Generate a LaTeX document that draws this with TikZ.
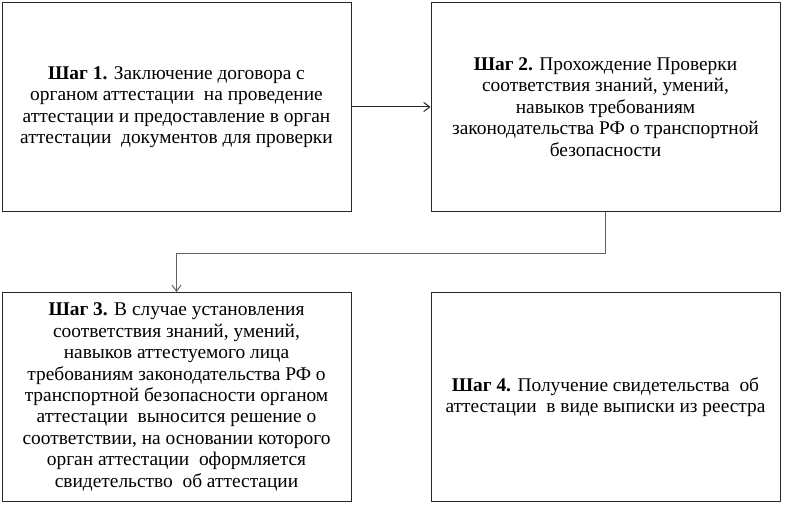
\documentclass[tikz,border=0pt]{standalone}
\usepackage{fontspec}
\setmainfont{Liberation Serif}
\usepackage{tikz}
\usetikzlibrary{arrows.meta,positioning,calc}
\definecolor{BoxLine}{RGB}{40,40,40}
\definecolor{LinkGray}{RGB}{95,95,95}
\tikzset{
  stepbox/.style={draw=BoxLine, line width=1pt, rectangle, minimum width=349pt, minimum height=209pt, align=center, inner sep=0pt, font=\fontsize{19.4}{21.4}\selectfont},
  link/.style={-{Straight Barb[length=6pt,width=9pt]}, line width=1pt}
}

\begin{document}
\begin{tikzpicture}[x=1pt,y=-1pt]
        \useasboundingbox (0,0) rectangle (785,508);
        \node[stepbox] (step1) at (176.5,107) {\textbf{Шаг 1.} Заключение договора с\\органом аттестации\ \ на проведение\\аттестации и предоставление в орган\\аттестации\ \ документов для проверки};
        \node[stepbox] (step2) at (605.5,107) {\textbf{Шаг 2.} Прохождение Проверки\\соответствия знаний, умений,\\навыков требованиям\\законодательства РФ о транспортной\\безопасности};
        \node[stepbox] (step3) at (176.5,397) {\textbf{Шаг 3.} В случае установления\\соответствия знаний, умений,\\навыков аттестуемого лица\\требованиям законодательства РФ о\\транспортной безопасности органом\\аттестации\ \ выносится решение о\\соответствии, на основании которого\\орган аттестации\ \ оформляется\\свидетельство\ \ об аттестации};
        \node[stepbox] (step4) at (605.5,397) {\textbf{Шаг 4.} Получение свидетельства\ \ об\\аттестации\ \ в виде выписки из реестра};
        \draw[link, BoxLine] (step1.east) -- (step2.west);
        \coordinate (turn) at ($(step2.south)+(0,41)$);
        \draw[link, LinkGray] (step2.south) -- (turn) -| (step3.north);
      \end{tikzpicture}
\end{document}
